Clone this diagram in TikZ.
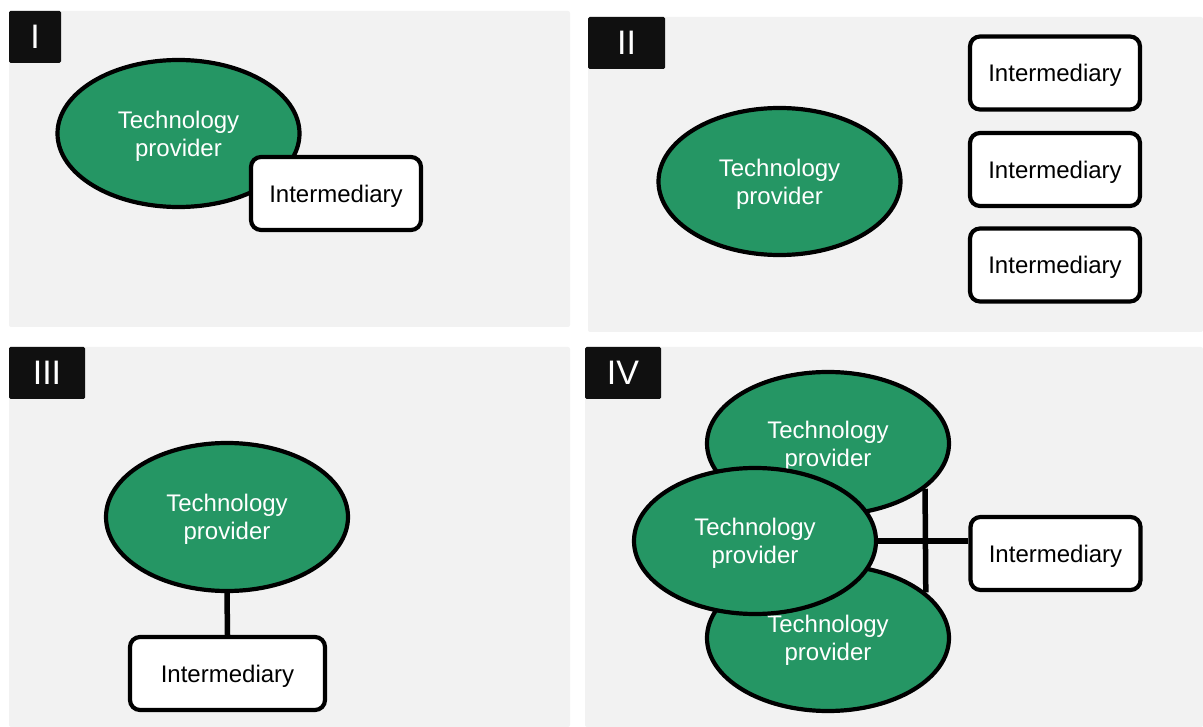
\documentclass[tikz,border=0pt]{standalone}
\usepackage{fontspec}
\setmainfont{Liberation Sans}
\usetikzlibrary{shapes.geometric,positioning}
\definecolor{provgreen}{HTML}{259664}
\definecolor{panelgray}{HTML}{F2F2F2}
\definecolor{tagblack}{HTML}{101010}

\begin{document}
\begin{tikzpicture}[x=1pt,y=-1pt,font=\fontsize{24}{28}\selectfont,
  panel/.style={fill=panelgray,draw=none,rounded corners=2pt},
  tag/.style={fill=tagblack,text=white,rounded corners=1.5pt,minimum height=52pt,minimum width=#1,inner sep=0pt,font=\fontsize{34}{34}\selectfont},
  tag/.default=52pt,
  tech/.style={ellipse,draw=black,line width=4.2pt,fill=provgreen,text=white,align=center,inner sep=0pt,text depth=0pt,minimum width=242pt,minimum height=#1},
  tech/.default=146pt,
  inter/.style={draw=black,line width=4.2pt,fill=white,rounded corners=10pt,minimum width=#1,minimum height=73pt,inner sep=0pt,text depth=0pt},
  inter/.default=170pt,
  link/.style={draw=black,line width=5.5pt}]
\useasboundingbox (0,0) rectangle (1203,727);
% panels
\path[panel] (9,11) rectangle (570,327);
\path[panel] (588,17) rectangle (1203,332);
\path[panel] (9,347) rectangle (570,727);
\path[panel] (585,347) rectangle (1203,727);
\node[tag] (tagI) at (35,37) {I};
\node[tag=77pt] (tagII) at (626.5,43) {II};
\node[tag=76pt] (tagIII) at (47,373) {III};
\node[tag=76pt] (tagIV) at (623,373) {IV};
% I
\node[tech=147pt] (tp1) at (178.5,133.5) {Technology\\provider};
\node[inter] (int1) at (336,193.5) {Intermediary};
% II
\node[tech=147pt] (tp2) at (779.5,181.5) {Technology\\provider};
\node[inter] (int2a) at (1055,73) {Intermediary};
\node[inter] (int2b) at (1055,169.5) {Intermediary};
\node[inter] (int2c) at (1055,265) {Intermediary};
% III
\node[tech=148pt] (tp3) at (227,517) {Technology\\provider};
\node[inter=195pt] (int3) at (227.5,673.5) {Intermediary};
\draw[link] (tp3.south) -- (int3.north);
% IV
\node[tech=143pt] (tp4a) at (828,443.5) {Technology\\provider};
\node[tech=146pt] (tp4c) at (828,638) {Technology\\provider};
\node[inter] (int4) at (1055.5,553.5) {Intermediary};
\draw[link] (tp4a.-25) -- (tp4c.25);
\node[tech=146pt] (tp4b) at (755,541) {Technology\\provider};
\draw[link] (tp4b.east) -- (tp4b.east -| int4.west);
\end{tikzpicture}
\end{document}
